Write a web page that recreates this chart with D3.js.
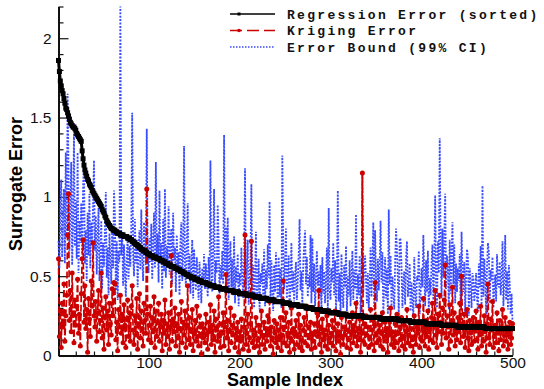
<!DOCTYPE html>
<html>
<head>
<meta charset="utf-8">
<script src="https://cdn.jsdelivr.net/npm/d3@7"></script>
<style>
  body { margin: 0; background: #fff; }
</style>
</head>
<body>
<div id="chart"></div>
<script>
// regression error, already sorted (sample 1..500)
const regressionError = [
  1.86,1.79,1.73,1.70,1.67,1.65,1.62,1.59,1.56,1.55,
  1.53,1.51,1.49,1.47,1.46,1.45,1.44,1.44,1.43,1.42,
  1.40,1.39,1.38,1.37,1.36,1.35,1.29,1.24,1.20,1.17,
  1.15,1.13,1.11,1.10,1.08,1.07,1.06,1.04,1.03,1.02,
  1.01,1.00,0.99,0.98,0.97,0.96,0.95,0.94,0.92,0.91,
  0.90,0.88,0.87,0.85,0.84,0.83,0.82,0.81,0.80,0.80,
  0.79,0.79,0.79,0.78,
  0.78,0.77,0.77,0.77,0.76,0.76,0.76,0.76,0.75,0.75,0.75,0.75,0.74,0.74,0.74,
  0.73,0.73,0.72,0.72,0.71,0.71,0.70,0.70,0.69,0.69,0.68,0.68,0.67,0.67,0.66,0.66,0.66,0.65,
  0.65,0.64,0.64,0.64,0.63,0.63,0.63,0.62,0.62,0.62,0.62,0.61,0.61,0.61,0.61,
  0.60,0.60,0.60,0.59,0.59,0.59,0.58,0.58,0.58,0.57,0.57,0.57,0.56,0.56,0.56,0.56,0.55,0.55,
  0.55,0.54,0.54,0.54,0.53,0.53,0.53,0.52,0.52,0.52,0.51,0.51,0.51,0.50,0.50,0.50,0.49,0.49,
  0.49,0.49,0.48,0.48,0.48,0.48,0.47,0.47,0.47,0.47,0.46,0.46,0.46,0.46,0.46,0.45,0.45,0.45,0.45,
  0.44,0.44,0.44,0.44,0.44,0.43,0.43,0.43,0.43,0.43,0.43,0.42,0.42,0.42,0.42,0.42,0.42,0.42,
  0.41,0.41,0.41,0.41,0.41,0.41,0.41,
  0.40,0.40,0.40,0.40,0.40,0.40,0.40,
  0.39,0.39,0.39,0.39,0.39,0.39,0.39,0.39,
  0.38,0.38,0.38,0.38,0.38,0.38,0.38,0.38,
  0.37,0.37,0.37,0.37,0.37,0.37,0.37,
  0.36,0.36,0.36,0.36,0.36,0.36,0.36,0.36,
  0.35,0.35,0.35,0.35,0.35,0.35,0.35,0.35,
  0.34,0.34,0.34,0.34,0.34,0.34,0.34,0.34,0.34,
  0.33,0.33,0.33,0.33,0.33,0.33,0.33,0.33,
  0.32,0.32,0.32,0.32,0.32,0.32,0.32,0.32,0.32,
  0.31,0.31,0.31,0.31,0.31,0.31,0.31,0.31,
  0.30,0.30,0.30,0.30,0.30,0.30,0.30,0.30,
  0.29,0.29,0.29,0.29,0.29,0.29,0.29,0.29,0.29,
  0.28,0.28,0.28,0.28,0.28,0.28,0.28,0.28,0.28,
  0.27,0.27,0.27,0.27,0.27,0.27,0.27,0.27,0.27,0.27,
  0.26,0.26,0.26,0.26,0.26,0.26,0.26,0.26,0.26,
  0.25,0.25,0.25,0.25,0.25,0.25,0.25,0.25,0.25,0.25,0.25,0.25,0.25,0.25,0.25,0.25,0.25,0.25,
  0.24,0.24,0.24,0.24,0.24,0.24,0.24,0.24,0.24,0.24,0.24,0.24,0.24,0.24,0.24,0.24,0.24,0.24,0.24,
  0.23,0.23,0.23,0.23,0.23,0.23,0.23,0.23,0.23,0.23,0.23,0.23,0.23,0.23,0.23,0.23,0.23,0.23,0.23,0.23,
  0.22,0.22,0.22,0.22,0.22,0.22,0.22,0.22,0.22,0.22,0.22,0.22,0.22,
  0.21,0.21,0.21,0.21,0.21,0.21,0.21,0.21,0.21,0.21,0.21,0.21,0.21,0.21,0.21,0.21,0.21,
  0.20,0.20,0.20,0.20,0.20,0.20,0.20,0.20,0.20,0.20,0.20,0.20,0.20,0.20,0.20,0.20,0.20,
  0.19,0.19,0.19,0.19,0.19,0.19,0.19,0.19,0.19,0.19,0.19,0.19,0.19,0.19,0.19,0.19,0.19,
  0.18,0.18,0.18,0.18,0.18,0.18,0.18,0.18,0.18,0.18,0.18,0.18,0.18,0.18,0.18,0.18,
  0.18,0.18,0.18,0.18,0.18,0.18,0.18,0.18,0.18,0.18,0.18,0.18,0.18,0.18,0.18,
  0.17,0.17,0.17,0.17,0.17,0.17,0.17,0.17,0.17,0.17,0.17,0.17,0.17,0.17,0.17,0.17,
  0.17,0.17,0.17,0.17,0.17,0.17,0.17,0.17,0.17,0.17,0.17,0.17,0.17,0.17,0.17
];

// kriging error at the same samples
const krigingError = [
  0.61,0.12,0.28,0.05,0.33,0.18,0.45,0.09,0.25,0.38,0.76,1.02,0.22,0.41,0.15,0.52,0.27,0.08,0.35,0.19,
  0.31,0.48,0.14,0.26,0.06,0.39,0.61,0.73,0.21,0.44,0.17,0.29,0.02,0.36,0.23,0.12,0.47,0.31,0.71,0.25,
  0.18,0.34,0.09,0.27,0.41,0.15,0.22,0.52,0.11,0.30,0.04,0.24,0.37,0.16,0.28,0.07,0.33,0.20,0.13,0.42,
  0.25,0.46,0.45,0.10,0.21,0.03,0.29,0.18,0.38,0.14,0.26,0.08,0.32,0.19,0.05,0.23,0.35,0.12,0.27,0.09,
  0.31,0.44,0.16,0.07,0.25,0.13,0.36,0.04,0.20,0.39,0.11,0.28,0.17,0.06,0.33,0.22,0.14,1.05,0.26,0.10,
  0.19,0.31,0.08,0.24,0.15,0.37,0.05,0.28,0.12,0.21,0.33,0.09,0.18,0.26,0.03,0.22,0.14,0.35,0.07,0.20,
  0.12,0.27,0.04,0.18,0.63,0.09,0.23,0.15,0.30,0.06,0.20,0.11,0.26,0.02,0.17,0.34,0.08,0.21,0.13,0.28,
  0.05,0.19,0.44,0.10,0.24,0.07,0.16,0.29,0.03,0.14,0.22,0.09,0.31,0.12,0.06,0.25,0.18,0.01,0.20,0.11,
  0.17,0.08,0.26,0.13,0.04,0.21,0.15,0.32,0.07,0.19,0.10,0.28,0.02,0.23,0.16,0.09,0.37,0.12,0.05,0.20,
  0.14,0.27,0.06,0.18,0.51,0.11,0.22,0.03,0.16,0.30,0.08,0.19,0.13,0.25,0.05,0.17,0.10,0.21,0.02,0.15,
  0.09,0.23,0.12,0.04,0.18,0.76,0.07,0.14,0.26,0.03,0.11,0.20,0.72,0.08,0.16,0.05,0.13,0.24,0.06,0.10,
  0.19,0.02,0.15,0.28,0.07,0.12,0.21,0.04,0.17,0.09,0.25,0.13,0.34,0.06,0.18,0.11,0.01,0.22,0.14,0.08,
  0.20,0.05,0.16,0.10,0.24,0.03,0.13,0.47,0.08,0.18,0.27,0.06,0.14,0.21,0.02,0.11,0.30,0.09,0.17,0.04,
  0.15,0.22,0.07,0.12,0.26,0.05,0.19,0.10,0.03,0.16,0.24,0.08,0.13,0.31,0.06,0.18,0.11,0.21,0.04,0.14,
  0.09,0.20,0.05,0.15,0.27,0.12,0.41,0.07,0.18,0.02,0.23,0.10,0.16,0.06,0.13,0.25,0.04,0.19,0.11,0.08,
  0.14,0.22,0.06,0.17,0.28,0.03,0.12,0.20,0.09,0.15,0.01,0.24,0.11,0.07,0.18,0.13,0.26,0.05,0.16,0.10,
  0.21,0.04,0.15,0.27,0.08,0.19,0.12,0.33,0.06,0.17,0.10,0.23,0.02,0.14,1.15,0.09,0.20,0.07,0.25,0.13,
  0.18,0.05,0.11,0.29,0.07,0.16,0.22,0.03,0.46,0.13,0.08,0.24,0.10,0.19,0.06,0.14,0.27,0.04,0.12,0.21,
  0.09,0.17,0.02,0.23,0.13,0.30,0.07,0.15,0.11,0.05,0.20,0.08,0.26,0.14,0.03,0.18,0.10,0.24,0.06,0.12,
  0.19,0.04,0.15,0.29,0.08,0.13,0.21,0.06,0.17,0.10,0.02,0.25,0.12,0.07,0.18,0.14,0.31,0.05,0.11,0.20,
  0.09,0.36,0.15,0.06,0.22,0.12,0.28,0.04,0.17,0.10,0.24,0.33,0.08,0.19,0.41,0.13,0.05,0.26,0.15,0.38,
  0.21,0.07,0.30,0.14,0.35,0.57,0.11,0.25,0.18,0.04,0.32,0.09,0.22,0.43,0.13,0.27,0.06,0.19,0.10,0.24,
  0.15,0.33,0.08,0.50,0.20,0.12,0.26,0.05,0.17,0.29,0.11,0.03,0.22,0.14,0.07,0.19,0.24,0.09,0.16,0.28,
  0.10,0.04,0.21,0.13,0.31,0.06,0.18,0.09,0.25,0.15,0.02,0.20,0.45,0.11,0.07,0.23,0.16,0.34,0.05,0.12,
  0.19,0.08,0.27,0.14,0.03,0.22,0.10,0.17,0.29,0.06,0.13,0.24,0.09,0.18,0.04,0.15,0.21,0.07,0.11,0.20
];

// kriging 99% error bound at the same samples
const errorBound = [
  0.72,0.55,0.95,1.11,0.62,0.88,1.05,0.58,1.28,0.74,1.65,1.18,0.66,0.92,1.22,0.57,0.83,1.40,0.69,0.98,
  0.61,1.28,0.52,0.85,0.71,0.96,0.64,1.05,1.24,0.58,0.79,0.47,0.90,0.63,1.02,0.55,0.84,0.69,0.96,1.23,
  0.66,0.88,0.51,0.74,0.93,0.47,0.62,0.85,0.42,0.71,0.56,0.80,1.03,0.49,0.68,0.38,0.77,0.60,0.45,0.82,
  0.55,1.04,0.88,0.41,0.72,0.35,0.66,0.59,2.20,0.63,0.78,0.44,0.70,0.52,0.37,0.61,0.75,0.48,0.69,0.56,
  0.81,1.53,0.64,0.50,0.86,0.58,0.73,0.43,0.67,0.79,0.54,0.92,0.62,0.47,0.84,0.70,0.57,1.43,0.66,0.52,
  0.74,0.59,0.83,0.48,0.68,0.90,0.55,1.22,0.63,0.77,0.46,1.04,0.58,0.71,0.42,0.86,0.53,1.05,0.49,0.69,
  0.57,0.94,0.51,0.72,0.80,0.45,0.90,0.60,0.68,0.40,0.76,0.53,0.65,0.38,0.71,0.84,0.47,0.62,1.32,0.55,
  0.43,0.70,0.96,0.50,0.64,0.39,0.58,0.73,0.36,0.67,0.52,0.41,0.62,0.48,0.35,0.59,0.46,0.33,0.55,0.44,
  0.64,0.42,0.58,0.50,0.37,0.62,0.47,1.23,0.54,0.40,0.69,1.05,0.44,0.60,0.52,0.95,0.71,0.39,0.57,0.48,
  0.66,0.45,1.39,0.53,0.81,0.41,0.87,0.35,0.58,0.72,0.43,0.61,0.38,0.75,0.33,0.56,0.46,0.64,0.31,0.52,
  0.44,0.68,0.50,0.36,0.59,1.18,0.41,0.55,0.73,0.32,0.47,0.62,1.08,0.39,0.57,0.30,0.48,0.78,0.35,0.43,
  0.61,0.29,0.52,0.45,0.58,0.38,0.67,0.31,0.54,0.42,0.70,0.49,0.97,0.34,0.60,0.44,0.28,0.57,0.40,0.65,
  0.48,0.33,0.62,0.37,0.55,0.30,1.26,0.68,0.42,0.59,0.80,0.36,0.51,0.63,0.29,0.46,0.71,0.40,0.53,0.34,
  0.50,0.59,0.35,0.47,0.64,0.86,0.41,0.53,0.32,0.58,0.69,0.79,0.45,0.62,0.37,0.51,0.43,0.76,0.33,0.74,
  0.40,0.58,0.31,0.49,0.66,0.44,0.53,0.36,0.57,0.28,0.62,0.39,0.53,0.33,0.47,0.68,0.30,0.93,0.42,0.35,
  0.55,0.46,0.71,0.38,0.60,0.27,0.49,1.04,0.34,0.52,0.25,0.64,0.41,0.30,0.57,0.43,0.69,0.28,0.50,0.37,
  0.60,0.31,0.48,0.66,0.35,0.54,0.42,0.89,0.29,0.51,0.38,0.63,0.26,0.45,1.15,0.40,0.58,0.63,0.47,0.33,
  0.52,0.30,0.44,0.68,0.37,0.56,0.84,0.28,0.79,0.49,0.34,0.61,0.41,0.57,0.85,0.46,0.65,0.27,0.43,0.62,
  0.36,0.55,0.26,0.92,0.45,0.63,0.31,0.50,0.40,0.29,0.58,0.80,0.66,0.48,0.25,0.74,0.73,0.57,0.30,0.46,
  0.53,0.32,0.61,0.72,0.37,0.44,0.58,0.28,0.46,0.35,0.24,0.62,0.41,0.30,0.50,0.47,0.66,0.26,0.39,0.55,
  0.43,0.76,0.52,0.31,0.60,0.40,0.66,0.27,0.49,0.38,0.58,0.70,0.35,0.54,1.01,0.46,0.30,0.72,0.52,1.37,
  0.68,0.36,0.80,0.49,0.74,1.02,0.42,0.63,0.56,0.29,0.73,0.39,0.61,0.84,0.45,0.70,0.33,0.58,0.40,0.55,
  0.47,0.64,0.31,0.78,0.53,0.40,0.59,0.27,0.50,0.67,0.62,0.25,0.55,0.44,0.30,0.52,0.48,0.34,0.41,0.52,
  0.36,0.28,0.58,0.43,0.69,0.32,1.07,0.37,0.61,0.49,0.26,0.56,0.71,0.65,0.33,0.54,0.47,0.62,0.30,0.42,
  0.51,0.34,0.64,0.45,0.43,0.59,0.38,0.50,0.72,0.31,0.48,0.76,0.35,0.53,0.29,0.57,0.44,0.26,0.39,0.21
];

const xTicks = [100, 200, 300, 400, 500];
const xMinorTicks = [20,40,60,80,120,140,160,180,220,240,260,280,320,340,360,380,420,440,460,480];
const yTicks = [0, 0.5, 1, 1.5, 2];
const yMinorTicks = [0.1,0.2,0.3,0.4,0.6,0.7,0.8,0.9,1.1,1.2,1.3,1.4,1.6,1.7,1.8,1.9,2.1,2.2];
const seriesNames = ["Regression Error (sorted)", "Kriging Error", "Error Bound (99% CI)"];

const width = 544, height = 389;
const black = "#000", red = "#cc0000", blue = "#3a4cff";

const svg = d3.select("#chart").append("svg")
    .attr("width", width)
    .attr("height", height);

const x = d3.scaleLinear().domain([1, 500]).range([58.5, 512.5]);
const y = d3.scaleLinear().domain([0, 2.2]).range([355.5, 6.5]);

// minor ticks first, then main axes
svg.append("g")
    .attr("transform", `translate(0, ${y(0)})`)
    .call(d3.axisBottom(x).tickValues(xMinorTicks).tickSize(-4).tickFormat(""))
    .call(g => g.select(".domain").remove());
svg.append("g")
    .attr("transform", `translate(${x(1)}, 0)`)
    .call(d3.axisLeft(y).tickValues(yMinorTicks).tickSize(-5).tickFormat(""))
    .call(g => g.select(".domain").remove());

svg.append("g")
    .attr("transform", `translate(0, ${y(0)})`)
    .call(d3.axisBottom(x).tickValues(xTicks).tickSize(-7).tickSizeOuter(0).tickPadding(1.5));
svg.append("g")
    .attr("transform", `translate(${x(1)}, 0)`)
    .call(d3.axisLeft(y).tickValues(yTicks).tickSize(-10).tickSizeOuter(0).tickPadding(7)
      .tickFormat(d3.format("")));

svg.selectAll(".tick line").attr("stroke", "#111").attr("stroke-width", 1.2);
svg.selectAll(".domain").attr("stroke", "#111").attr("stroke-width", 2);
svg.selectAll(".tick text")
    .attr("font-family", "Liberation Sans, Arial, sans-serif")
    .attr("font-size", 15.5)
    .attr("fill", "#111");

// axis titles
svg.append("text")
    .attr("x", 285)
    .attr("y", 385.5)
    .attr("text-anchor", "middle")
    .attr("font-family", "Liberation Sans, Arial, sans-serif")
    .attr("font-weight", "bold")
    .attr("font-size", 18)
    .text("Sample Index");
svg.append("text")
    .attr("transform", "translate(22, 184) rotate(-90)")
    .attr("text-anchor", "middle")
    .attr("font-family", "Liberation Sans, Arial, sans-serif")
    .attr("font-weight", "bold")
    .attr("font-size", 18)
    .text("Surrogate Error");

// curves
const line = d3.line().x((d, i) => x(i + 1)).y(d => y(d));

svg.append("path")
    .datum(errorBound)
    .attr("d", line)
    .attr("fill", "none")
    .attr("stroke", blue)
    .attr("stroke-width", 1.8)
    .attr("stroke-dasharray", "2,1.4");

svg.append("path")
    .datum(krigingError)
    .attr("d", line)
    .attr("fill", "none")
    .attr("stroke", red)
    .attr("stroke-width", 1.7)
    .attr("stroke-dasharray", "7,2.5");
svg.append("g")
  .selectAll("circle")
  .data(krigingError)
  .join("circle")
    .attr("cx", (d, i) => x(i + 1))
    .attr("cy", d => y(d))
    .attr("r", 2.5)
    .attr("fill", red);

svg.append("path")
    .datum(regressionError)
    .attr("d", line)
    .attr("fill", "none")
    .attr("stroke", black)
    .attr("stroke-width", 3);
svg.append("g")
  .selectAll("rect")
  .data(regressionError)
  .join("rect")
    .attr("x", (d, i) => x(i + 1) - 2.5)
    .attr("y", d => y(d) - 2.5)
    .attr("width", 5)
    .attr("height", 5)
    .attr("fill", black);

// legend
const legend = svg.append("g").attr("transform", "translate(230, 14)");
const legendRowGap = 16.5;
const legendStyles = [
  {stroke: black, dash: null, marker: "square"},
  {stroke: red, dash: "12,5", marker: "circle"},
  {stroke: blue, dash: "1.5,1.5", marker: null}
];
seriesNames.forEach((name, i) => {
  const row = legend.append("g").attr("transform", `translate(0, ${i * legendRowGap})`);
  const s = legendStyles[i];
  row.append("line")
      .attr("x1", 0).attr("x2", 45)
      .attr("stroke", s.stroke)
      .attr("stroke-width", 1.5)
      .attr("stroke-dasharray", s.dash);
  if (s.marker === "square") {
    row.append("rect").attr("x", 7.5).attr("y", -1.5).attr("width", 3).attr("height", 3).attr("fill", s.stroke);
  } else if (s.marker === "circle") {
    row.append("circle").attr("cx", 9).attr("cy", 0).attr("r", 1.8).attr("fill", s.stroke);
  }
  row.append("text")
      .attr("x", 57)
      .attr("y", 4.5)
      .attr("font-family", "Liberation Mono, Courier New, monospace")
      .attr("font-weight", "bold")
      .attr("font-size", 13)
      .attr("letter-spacing", 2.3)
      .attr("fill", "#111")
      .text(name);
});
</script>
</body>
</html>
